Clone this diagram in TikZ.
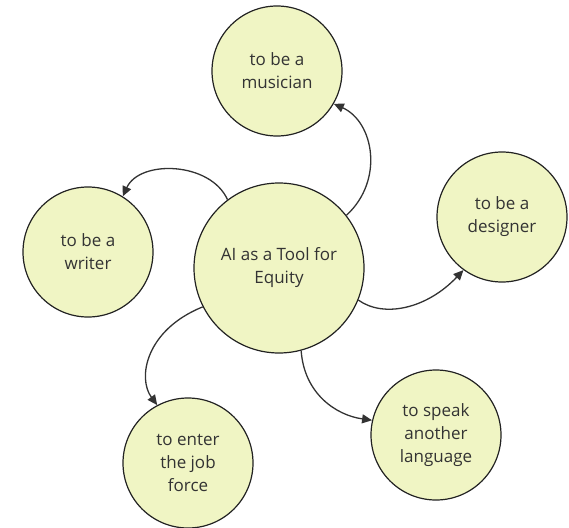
\documentclass[tikz,border=0pt]{standalone}
\usepackage{fontspec}
\setmainfont{Open Sans}
\usetikzlibrary{arrows.meta}
\definecolor{bubblefill}{RGB}{240,245,196}
\definecolor{bubbleline}{RGB}{34,34,34}
\definecolor{inktext}{RGB}{51,51,51}
\definecolor{linkline}{RGB}{51,51,51}
\begin{document}
\begin{tikzpicture}[x=1pt,y=-1pt,
  bubble/.style={circle, draw=bubbleline, fill=bubblefill, line width=1.2pt,
    minimum size=130pt, inner sep=0pt, align=center, text=inktext,
    font=\fontsize{17}{23}\selectfont},
  hub/.style={bubble, minimum size=170pt},
  link/.style={draw=linkline, line width=1.3pt,
    -{Triangle[length=10pt,width=9pt]}}]
\useasboundingbox (0,0) rectangle (569,527);

\node[hub]    (ai)  at (279,268) {AI as a Tool for\\Equity};
\node[bubble] (mus) at (277,71)  {to be a\\musician};
\node[bubble] (wri) at (88,252)  {to be a\\writer};
\node[bubble] (des) at (502,217) {to be a\\designer};
\node[bubble] (job) at (188,463) {to enter\\the job\\force};
\node[bubble] (lang) at (436,435) {to speak\\another\\language};

\draw[link] (ai.38)   .. controls +(38,-35) and +(40,18)  .. (mus.-30);
\draw[link] (ai.127)  .. controls +(-17,-38) and +(17,-37) .. (wri.58);
\draw[link] (ai.-22)  .. controls +(25,18)  and +(-37,39) .. (des.-126);
\draw[link] (ai.207)  .. controls +(-57,23) and +(-20,-27) .. (job.118);
\draw[link] (ai.-75)  .. controls +(3,43)   and +(-36,-5) .. (lang.167);
\end{tikzpicture}
\end{document}
